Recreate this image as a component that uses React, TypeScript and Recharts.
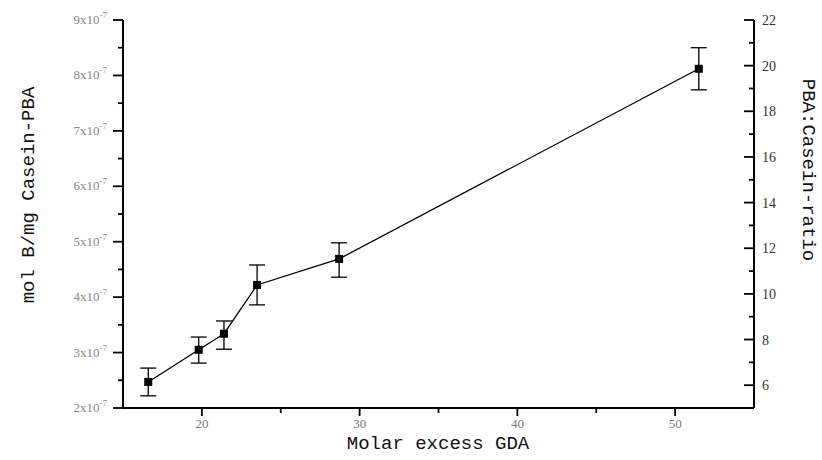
import { ComposedChart, Line, XAxis, YAxis, ErrorBar } from 'recharts'

const molarExcess = [16.6, 19.8, 21.4, 23.5, 28.7, 51.5]
const molB = [2.47e-7, 3.05e-7, 3.34e-7, 4.22e-7, 4.69e-7, 8.12e-7]
const errLow = [0.25e-7, 0.24e-7, 0.28e-7, 0.36e-7, 0.33e-7, 0.38e-7]
const errHigh = [0.25e-7, 0.23e-7, 0.23e-7, 0.36e-7, 0.29e-7, 0.38e-7]

const xTicks = [20, 25, 30, 35, 40, 45, 50]
const xMajor = [20, 30, 40, 50]
const leftTicks = [2e-7, 2.5e-7, 3e-7, 3.5e-7, 4e-7, 4.5e-7, 5e-7, 5.5e-7, 6e-7, 6.5e-7, 7e-7, 7.5e-7, 8e-7, 8.5e-7, 9e-7]
const rightTicks = [6, 7, 8, 9, 10, 11, 12, 13, 14, 15, 16, 17, 18, 19, 20, 21, 22]

const data = molarExcess.map((x, i) => ({ x, y: molB[i], err: [errLow[i], errHigh[i]] }))

const mono = '"Liberation Mono", "DejaVu Sans Mono", monospace'
const serif = '"Liberation Serif", "DejaVu Serif", serif'

const XTick = (p: any) => {
  const v = p.payload.value
  const major = xMajor.includes(v)
  return (
    <g>
      <line x1={p.x} y1={p.y} x2={p.x} y2={p.y + (major ? 8 : 5)} stroke="#000" strokeWidth={1.8} />
      {major && (
        <text x={p.x} y={p.y + 20} textAnchor="middle" fontSize={13} fontFamily={serif} fill="#777">{v}</text>
      )}
    </g>
  )
}

const LeftTick = (p: any) => {
  const v = p.payload.value
  const m = Math.round(v / 1e-7 * 10) / 10
  const major = Number.isInteger(m)
  return (
    <g>
      <line x1={p.x - (major ? 10 : 5)} y1={p.y} x2={p.x} y2={p.y} stroke="#000" strokeWidth={1.8} />
      {major && (
        <text x={p.x - 16} y={p.y + 4} textAnchor="end" fontSize={13} fontFamily={serif} fill="#888">
          {m}x10<tspan dy={-6} fontSize={9}>-7</tspan>
        </text>
      )}
    </g>
  )
}

const RightTick = (p: any) => {
  const v = p.payload.value
  const major = v % 2 === 0
  return (
    <g>
      <line x1={p.x - (major ? 10 : 5)} y1={p.y} x2={p.x} y2={p.y} stroke="#000" strokeWidth={1.8} />
      {major && (
        <text x={p.x + 8} y={p.y + 5} textAnchor="start" fontSize={14} fontFamily={serif} fill="#333">{v}</text>
      )}
    </g>
  )
}

const Square = (p: any) => {
  if (p.cx == null || p.cy == null) return null
  return <rect x={p.cx - 4} y={p.cy - 4} width={8} height={8} fill="#000" />
}

export default function App() {
  return (
    <div style={{ position: 'absolute', left: 0, top: 0, background: '#fff' }}>
      <ComposedChart width={822} height={460} data={data} margin={{ top: 20, right: 0, bottom: 0, left: 0 }}>
        <XAxis
          dataKey="x"
          type="number"
          domain={[15, 55]}
          ticks={xTicks}
          interval={0}
          height={52}
          tickSize={0}
          tickMargin={0}
          tick={<XTick />}
          axisLine={{ stroke: '#000', strokeWidth: 2 }}
          label={{
            content: () => (
              <text x={438} y={449} textAnchor="middle" fontSize={19} fontFamily={mono} fill="#111">Molar excess GDA</text>
            ),
          }}
        />
        <YAxis
          yAxisId="left"
          domain={[2e-7, 9e-7]}
          allowDataOverflow
          ticks={leftTicks}
          interval={0}
          width={123}
          tickSize={0}
          tickMargin={0}
          tick={<LeftTick />}
          axisLine={{ stroke: '#000', strokeWidth: 2 }}
          label={{
            content: () => (
              <text x={29} y={195} transform="rotate(-90 29 195)" textAnchor="middle" dominantBaseline="central" fontSize={19} fontFamily={mono} fill="#111">mol B/mg Casein-PBA</text>
            ),
          }}
        />
        <YAxis
          yAxisId="right"
          orientation="right"
          domain={[5, 22]}
          allowDataOverflow
          ticks={rightTicks}
          interval={0}
          width={68}
          tickSize={0}
          tickMargin={0}
          tick={<RightTick />}
          axisLine={{ stroke: '#000', strokeWidth: 2 }}
          label={{
            content: () => (
              <text x={808} y={170} transform="rotate(90 808 170)" textAnchor="middle" dominantBaseline="central" fontSize={19} fontFamily={mono} fill="#111">PBA:Casein-ratio</text>
            ),
          }}
        />
        {/* carrier series so the right axis gets drawn; nothing visible */}
        <Line
          yAxisId="right"
          dataKey="y"
          stroke="none"
          dot={false}
          activeDot={false}
          legendType="none"
          isAnimationActive={false}
        />
        <Line
          yAxisId="left"
          dataKey="y"
          type="linear"
          stroke="#000"
          strokeWidth={1.3}
          dot={<Square />}
          activeDot={false}
          isAnimationActive={false}
        >
          <ErrorBar dataKey="err" direction="y" width={8} stroke="#000" strokeWidth={1.3} />
        </Line>
      </ComposedChart>
    </div>
  )
}
